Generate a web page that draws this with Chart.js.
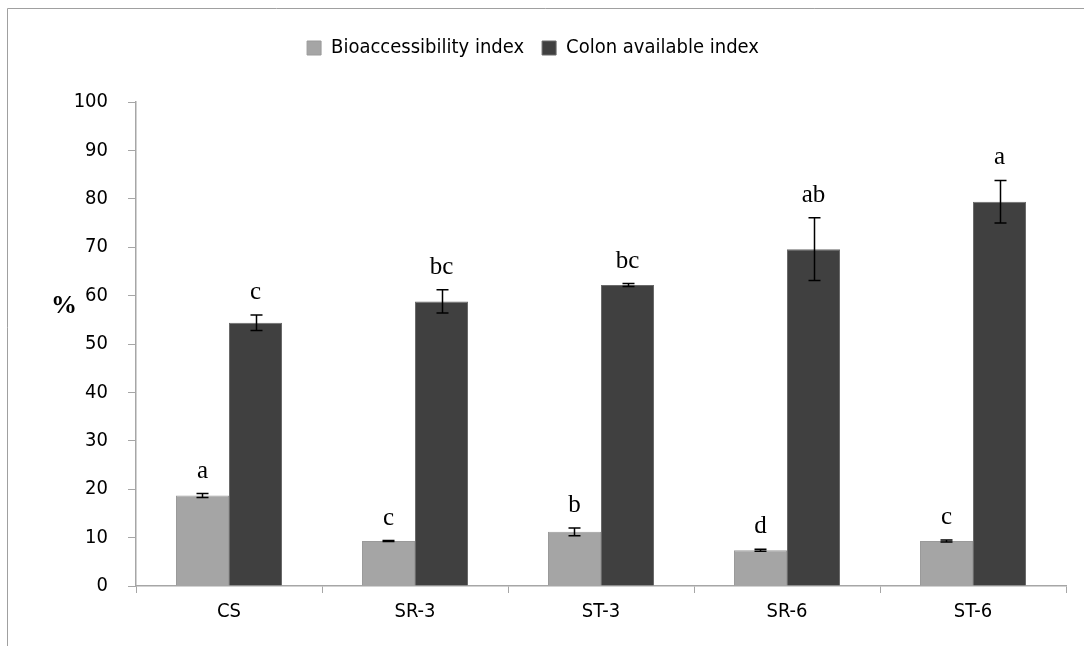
<!DOCTYPE html>
<html>
<head>
<meta charset="utf-8">
<script src="https://cdn.jsdelivr.net/npm/chart.js@4/dist/chart.umd.min.js"></script>
<style>
  html, body { margin: 0; padding: 0; background: #ffffff; }
  canvas { display: block; }
</style>
</head>
<body>
<canvas id="chart" width="1084" height="646"></canvas>
<script>
// Sample groups
const categories = ['CS', 'SR-3', 'ST-3', 'SR-6', 'ST-6'];

// Bioaccessibility index (%), standard deviation and significance letters
const bioIndex   = [18.7, 9.3, 11.2, 7.4, 9.3];
const bioErr     = [0.4, 0.1, 0.8, 0.2, 0.2];
const bioLetters = ['a', 'c', 'b', 'd', 'c'];

// Colon available index (%), standard deviation and significance letters
const colonIndex   = [54.4, 58.8, 62.2, 69.6, 79.4];
const colonErr     = [1.6, 2.4, 0.3, 6.5, 4.4];
const colonLetters = ['c', 'bc', 'bc', 'ab', 'a'];

// Y axis range
const yMin = 0, yMax = 100, yStep = 10;

const narrowFont = "'Liberation Sans Narrow', 'DejaVu Sans Condensed', 'Arial Narrow', sans-serif";
const serifFont = "'Liberation Serif', 'DejaVu Serif', serif";
const axisGrey = '#a6a6a6';

// Outer frame of the chart area
const framePlugin = {
  id: 'frame',
  beforeDraw(chart) {
    const ctx = chart.ctx;
    ctx.save();
    ctx.strokeStyle = '#a0a0a0';
    ctx.lineWidth = 1;
    ctx.beginPath();
    ctx.moveTo(7.5, chart.height);
    ctx.lineTo(7.5, 8.5);
    ctx.lineTo(chart.width, 8.5);
    ctx.stroke();
    ctx.restore();
  }
};

// Error bars, significance letters and the unit label
const annotatePlugin = {
  id: 'annotate',
  afterDatasetsDraw(chart) {
    const ctx = chart.ctx;
    const y = chart.scales.y;
    const errs = [bioErr, colonErr];
    const letters = [bioLetters, colonLetters];
    ctx.save();
    chart.data.datasets.forEach((ds, di) => {
      const meta = chart.getDatasetMeta(di);
      meta.data.forEach((bar, i) => {
        const v = ds.data[i];
        const e = errs[di][i];
        const yTop = y.getPixelForValue(v + e);
        const yBot = y.getPixelForValue(v - e);
        const x = Math.round(bar.x) + 0.5;
        ctx.strokeStyle = '#000000';
        ctx.lineWidth = 1.5;
        ctx.beginPath();
        ctx.moveTo(x, yTop);
        ctx.lineTo(x, yBot);
        ctx.moveTo(x - 6, yTop);
        ctx.lineTo(x + 6, yTop);
        ctx.moveTo(x - 6, yBot);
        ctx.lineTo(x + 6, yBot);
        ctx.stroke();
        ctx.fillStyle = '#000000';
        ctx.font = '25px ' + serifFont;
        ctx.textAlign = 'center';
        ctx.textBaseline = 'alphabetic';
        ctx.fillText(letters[di][i], bar.x, yTop - 16);
      });
    });
    ctx.font = 'bold 26px ' + serifFont;
    ctx.textAlign = 'center';
    ctx.textBaseline = 'middle';
    ctx.fillStyle = '#000000';
    ctx.fillText('%', 64, 306);
    ctx.restore();
  }
};

new Chart(document.getElementById('chart'), {
  type: 'bar',
  data: {
    labels: categories,
    datasets: [
      {
        label: 'Bioaccessibility index',
        data: bioIndex,
        backgroundColor: '#a5a5a5',
        borderColor: '#9a9a9a',
        borderWidth: 1,
        categoryPercentage: 0.57,
        barPercentage: 1.0
      },
      {
        label: 'Colon available index',
        data: colonIndex,
        backgroundColor: '#404040',
        borderColor: '#6a6a6a',
        borderWidth: 1,
        categoryPercentage: 0.57,
        barPercentage: 1.0
      }
    ]
  },
  options: {
    responsive: false,
    animation: false,
    layout: { padding: { top: 20, right: 18, bottom: 0, left: 0 } },
    plugins: {
      legend: {
        position: 'top',
        align: 'center',
        labels: {
          boxWidth: 14,
          boxHeight: 14,
          padding: 18,
          color: '#000000',
          font: { family: narrowFont, size: 20 }
        }
      },
      // empty spacer between the legend and the plot
      subtitle: {
        display: true,
        text: '',
        weight: 500,
        font: { size: 1, lineHeight: 1 },
        padding: { top: 0, bottom: 33 }
      },
      tooltip: { enabled: false }
    },
    scales: {
      x: {
        grid: {
          display: true,
          offset: true,
          drawOnChartArea: false,
          drawTicks: true,
          tickLength: 7,
          color: axisGrey
        },
        border: { display: true, color: axisGrey, width: 1.5 },
        ticks: {
          color: '#000000',
          padding: 7,
          font: { family: narrowFont, size: 20 }
        },
        afterFit(scale) { scale.height = 60; }
      },
      y: {
        min: yMin,
        max: yMax,
        grid: {
          display: true,
          drawOnChartArea: false,
          drawTicks: true,
          tickLength: 8,
          color: axisGrey
        },
        border: { display: true, color: axisGrey, width: 1.5 },
        ticks: {
          stepSize: yStep,
          color: '#000000',
          padding: 20,
          font: { family: narrowFont, size: 20 }
        },
        afterFit(scale) { scale.width = 136; }
      }
    }
  },
  plugins: [framePlugin, annotatePlugin]
});
</script>
</body>
</html>
